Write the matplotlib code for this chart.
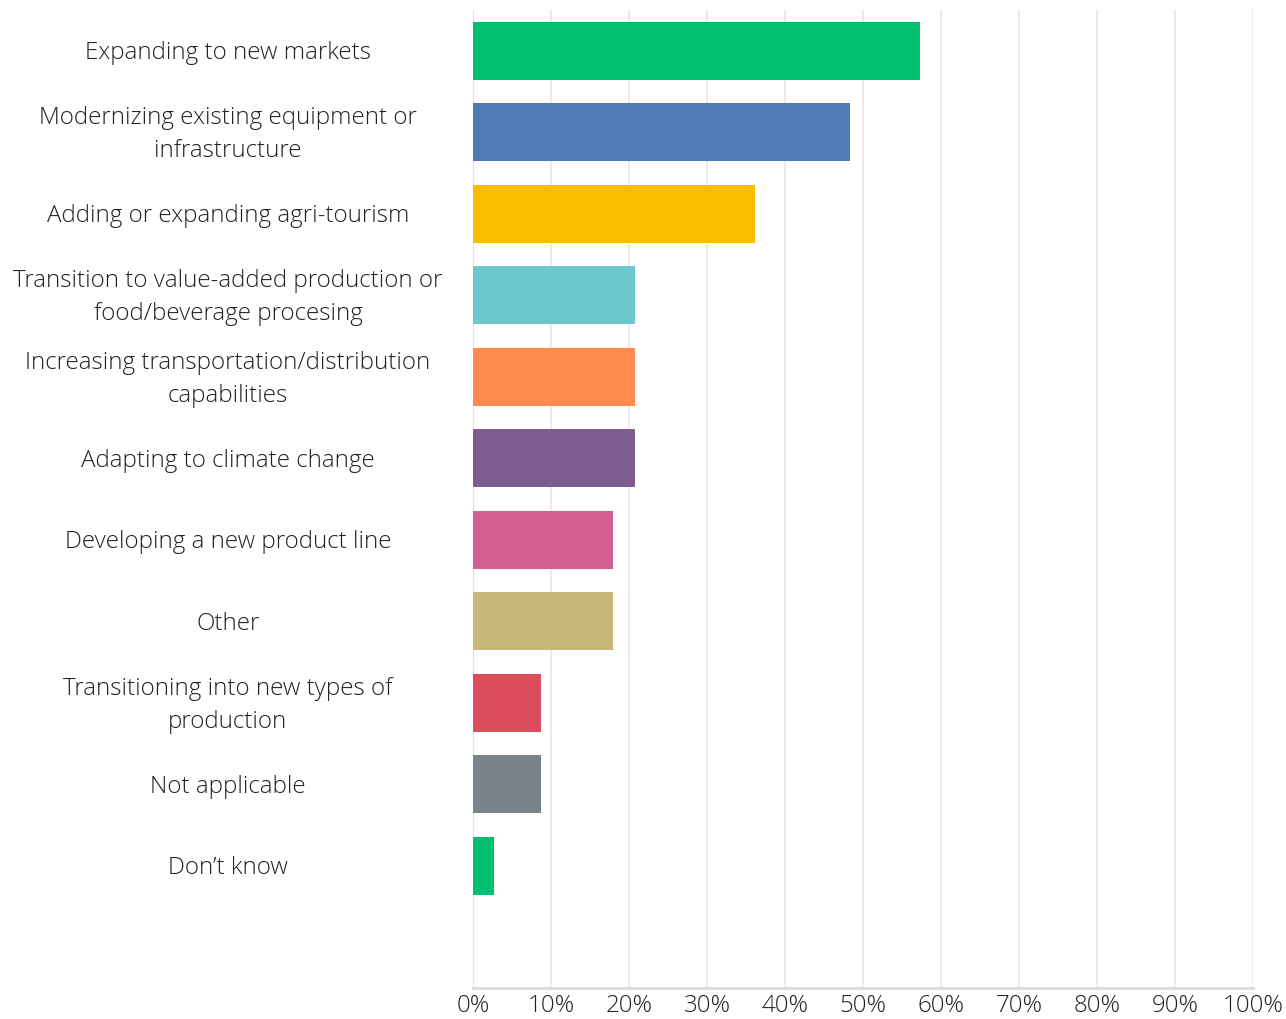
import matplotlib
matplotlib.use("Agg")
import matplotlib.pyplot as plt
import matplotlib.transforms as mtransforms
import numpy as np

# survey answers, top to bottom
categories = [
    "Expanding to new markets",
    "Modernizing existing equipment or\ninfrastructure",
    "Adding or expanding agri-tourism",
    "Transition to value-added production or\nfood/beverage procesing",
    "Increasing transportation/distribution\ncapabilities",
    "Adapting to climate change",
    "Developing a new product line",
    "Other",
    "Transitioning into new types of\nproduction",
    "Not applicable",
    "Don\u2019t know",
]
percent = [57.3, 48.3, 36.2, 20.8, 20.8, 20.8, 18.0, 18.0, 8.7, 8.7, 2.7]
bar_colors = ["#00BF6F", "#507CB6", "#F9BE00", "#6BC8CD", "#FF8B4F", "#7D5C8F",
              "#D25F90", "#C7B879", "#DB4D5C", "#78848A", "#00BF6F"]
xticks = list(range(0, 101, 10))
xticklabels = [str(t) + "%" for t in xticks]

plt.rcParams['font.family'] = ['Open Sans', 'DejaVu Sans']
textcol = '#222222'

fig = plt.figure(figsize=(12.86, 10.19), dpi=100)
ax = fig.add_axes([473/1286, 1 - 988/1019, (1253 - 473)/1286, (988 - 10)/1019])

ypos = np.arange(len(categories))
ax.barh(ypos, percent, height=0.71, color=bar_colors, zorder=3)

ax.set_xlim(0, 100)
ax.set_ylim(11.5, -0.5)
ax.set_xticks(xticks)
ax.set_xticklabels(xticklabels, fontsize=17.4, color=textcol, fontweight='light')
ax.tick_params(axis='x', length=0, pad=4)
ax.set_yticks([])
ax.grid(axis='x', color='#e8e8e8', lw=1.2, zorder=0)

for side in ['top', 'right']:
    ax.spines[side].set_visible(False)
ax.spines['left'].set_color('#e4e4e4')
ax.spines['bottom'].set_color('#dcdcdc')
ax.spines['bottom'].set_linewidth(2)

# category labels centred in the left margin
trans = mtransforms.blended_transform_factory(fig.transFigure, ax.transData)
for y, lab in zip(ypos, categories):
    ax.text(228/1286, y + 0.03, lab, transform=trans, ha='center', va='center',
            fontsize=17.4, color=textcol, fontweight='light', linespacing=1.5)

fig.savefig("out.png", dpi=100)
